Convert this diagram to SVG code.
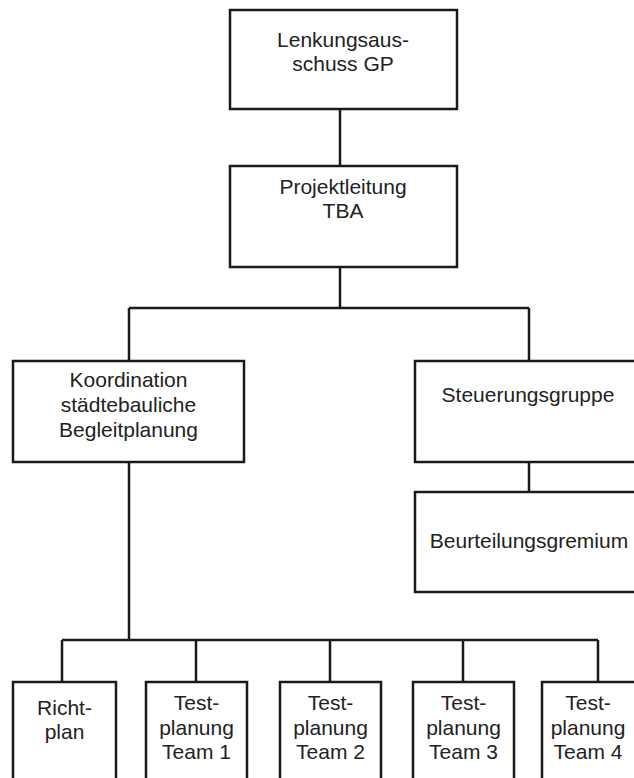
<svg xmlns="http://www.w3.org/2000/svg" width="634" height="778" viewBox="0 0 634 778">
<style>
.box{fill:#fff;stroke:#1a1a1a;stroke-width:2.5}
.ln{fill:none;stroke:#1a1a1a;stroke-width:2.5}
text{font-family:"Liberation Sans",Arial,sans-serif;font-size:21px;fill:#222;text-anchor:middle}
</style>
<rect width="634" height="778" fill="#fff"/>
<g id="connectors">
<path class="ln" d="M340,110V166M340,267V308M129,308H529M129,308V361M529,308V361M529,462V492M129,462V640M62,640H598M62,640V682M196,640V682M330,640V682M463,640V682M598,640V682"/>
</g>
<g id="lenkungsausschuss">
<rect class="box" x="230" y="10" width="227" height="99"/>
<text x="343" y="47">Lenkungsaus-</text>
<text x="343" y="71">schuss GP</text>
</g>
<g id="projektleitung">
<rect class="box" x="230" y="166" width="227" height="101"/>
<text x="343" y="194">Projektleitung</text>
<text x="343" y="218">TBA</text>
</g>
<g id="koordination">
<rect class="box" x="13" y="361" width="231" height="101"/>
<text x="128.5" y="387">Koordination</text>
<text x="128.5" y="412">städtebauliche</text>
<text x="128.5" y="437">Begleitplanung</text>
</g>
<g id="steuerungsgruppe">
<rect class="box" x="415" y="361" width="232" height="101"/>
<text x="528" y="402">Steuerungsgruppe</text>
</g>
<g id="beurteilungsgremium">
<rect class="box" x="415" y="492" width="232" height="100"/>
<text x="529" y="548">Beurteilungsgremium</text>
</g>
<g id="richtplan">
<rect class="box" x="13" y="682" width="103" height="110"/>
<text x="64.5" y="715">Richt-</text>
<text x="64.5" y="739">plan</text>
</g>
<g id="team1">
<rect class="box" x="146" y="682" width="101" height="110"/>
<text x="196.5" y="710">Test-</text>
<text x="196.5" y="735">planung</text>
<text x="196.5" y="759">Team 1</text>
</g>
<g id="team2">
<rect class="box" x="280" y="682" width="101" height="110"/>
<text x="330.5" y="710">Test-</text>
<text x="330.5" y="735">planung</text>
<text x="330.5" y="759">Team 2</text>
</g>
<g id="team3">
<rect class="box" x="413" y="682" width="101" height="110"/>
<text x="463.5" y="710">Test-</text>
<text x="463.5" y="735">planung</text>
<text x="463.5" y="759">Team 3</text>
</g>
<g id="team4">
<rect class="box" x="542" y="682" width="112" height="110"/>
<text x="588" y="710">Test-</text>
<text x="588" y="735">planung</text>
<text x="588" y="759">Team 4</text>
</g>
</svg>
